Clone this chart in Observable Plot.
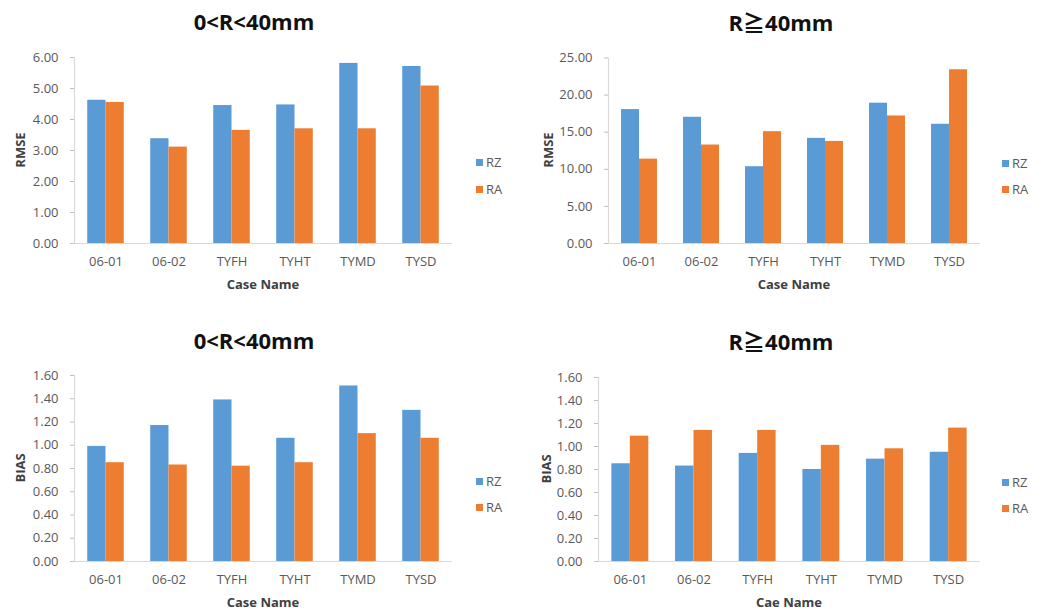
<!DOCTYPE html>
<html>
<head>
<meta charset="utf-8">
<script src="https://cdn.jsdelivr.net/npm/d3@7"></script>
<script src="https://cdn.jsdelivr.net/npm/@observablehq/plot@0.6"></script>
<style>
  html, body { margin: 0; padding: 0; background: #fff; }
  #wrap { position: relative; width: 1044px; height: 610px; overflow: hidden; font-family: "Open Sans", "Noto Sans CJK TC", sans-serif; }
  .panel { position: absolute; }
  .title { position: absolute; transform: translate(-50%, -50%); font-weight: bold; font-size: 22px; color: #111; white-space: nowrap; font-family: "Open Sans", "Noto Sans CJK TC", sans-serif; }
  .axt { position: absolute; font-weight: bold; font-size: 13px; color: #404040; white-space: nowrap; line-height: 1; }
  .axt.x { transform: translate(-50%, -50%); }
  .axt.y { transform: translate(-50%, -50%) rotate(-90deg); }
  .legend { position: absolute; font-size: 13px; color: #595959; }
  .legend .item { position: absolute; white-space: nowrap; transform: translateY(-50%); display: flex; align-items: center; }
  .legend .sw { display: inline-block; width: 7px; height: 7px; margin-right: 3px; }
</style>
</head>
<body>
<div id="wrap"></div>
<script>
const cases = ["06-01", "06-02", "TYFH", "TYHT", "TYMD", "TYSD"];
const seriesNames = ["RZ", "RA"];
const seriesColors = ["#5B9BD5", "#ED7D31"];

const rmseSmallRZ = [4.62, 3.38, 4.45, 4.47, 5.81, 5.71];
const rmseSmallRA = [4.55, 3.11, 3.65, 3.70, 3.70, 5.08];
const rmseLargeRZ = [18.05, 17.01, 10.35, 14.17, 18.91, 16.07];
const rmseLargeRA = [11.37, 13.27, 15.07, 13.76, 17.19, 23.42];
const biasSmallRZ = [0.99, 1.17, 1.39, 1.06, 1.51, 1.30];
const biasSmallRA = [0.85, 0.83, 0.82, 0.85, 1.10, 1.06];
const biasLargeRZ = [0.85, 0.83, 0.94, 0.80, 0.89, 0.95];
const biasLargeRA = [1.09, 1.14, 1.14, 1.01, 0.98, 1.16];

const rmseSmallTicks = [0, 1, 2, 3, 4, 5, 6];
const rmseLargeTicks = [0, 5, 10, 15, 20, 25];
const biasTicks = [0, 0.2, 0.4, 0.6, 0.8, 1.0, 1.2, 1.4, 1.6];

const titleSmall = "0<R<40mm";
const titleLarge = "R\u226740mm";

const wrap = document.getElementById("wrap");
const BW = 0.29; // bar width as a fraction of a category step

function addText(cls, text, x, y) {
  const t = document.createElement("div");
  t.className = cls;
  t.textContent = text;
  t.style.left = x + "px";
  t.style.top = y + "px";
  wrap.appendChild(t);
}

function panel(o) {
  const rows = [];
  cases.forEach((c, i) => {
    rows.push({i, series: "RZ", v: o.rz[i]});
    rows.push({i, series: "RA", v: o.ra[i]});
  });
  const chart = Plot.plot({
    width: o.width, height: o.height,
    marginLeft: o.ml, marginRight: o.mr, marginTop: o.mt, marginBottom: o.mb,
    style: {fontSize: "13px", fontFamily: "Open Sans, sans-serif", color: "#595959", background: "transparent"},
    x: {domain: [-0.5, cases.length - 0.5]},
    y: {domain: [o.ticks[0], o.ticks[o.ticks.length - 1]]},
    color: {domain: seriesNames, range: seriesColors},
    marks: [
      Plot.rect(rows, {
        x1: d => d.series === "RZ" ? d.i - BW : d.i,
        x2: d => d.series === "RZ" ? d.i : d.i + BW,
        y1: 0, y2: "v", fill: "series"
      }),
      Plot.ruleX([-0.5], {stroke: "#d9d9d9", strokeWidth: 1.2}),
      Plot.ruleY([0], {stroke: "#d9d9d9", strokeWidth: 1.2}),
      Plot.axisY({ticks: o.ticks, tickFormat: d => d.toFixed(2), tickSize: 4, tickPadding: 12,
        stroke: "#bfbfbf", label: null}),
      Plot.axisX({ticks: d3.range(cases.length), tickFormat: i => cases[i], tickSize: 0, tickPadding: 13,
        label: null})
    ]
  });
  const div = document.createElement("div");
  div.className = "panel";
  div.style.left = o.left + "px";
  div.style.top = o.top + "px";
  div.appendChild(chart);
  wrap.appendChild(div);

  // axis titles, centred on the plot frame
  const plotLeft = o.left + o.ml, plotRight = o.left + o.width - o.mr;
  const plotTop = o.top + o.mt, plotBottom = o.top + o.height - o.mb;
  addText("axt x", o.xLabel, (plotLeft + plotRight) / 2, plotBottom + 41);
  addText("axt y", o.yLabel, plotLeft - o.lo, (plotTop + plotBottom) / 2);
}

function legend(x, y1, y2) {
  const lg = document.createElement("div");
  lg.className = "legend";
  [y1, y2].forEach((y, k) => {
    const it = document.createElement("div");
    it.className = "item";
    it.style.left = x + "px";
    it.style.top = y + "px";
    const sw = document.createElement("span");
    sw.className = "sw";
    sw.style.background = seriesColors[k];
    it.appendChild(sw);
    it.appendChild(document.createTextNode(seriesNames[k]));
    lg.appendChild(it);
  });
  wrap.appendChild(lg);
}

panel({rz: rmseSmallRZ, ra: rmseSmallRA, ticks: rmseSmallTicks, yLabel: "RMSE", xLabel: "Case Name",
  left: 0, top: 30, width: 470, height: 280, ml: 74, mr: 18, mt: 27, mb: 67, lo: 54});
panel({rz: rmseLargeRZ, ra: rmseLargeRA, ticks: rmseLargeTicks, yLabel: "RMSE", xLabel: "Case Name",
  left: 520, top: 30, width: 470, height: 280, ml: 88, mr: 10, mt: 27.5, mb: 67, lo: 60});
panel({rz: biasSmallRZ, ra: biasSmallRA, ticks: biasTicks, yLabel: "BIAS", xLabel: "Case Name",
  left: 0, top: 340, width: 470, height: 270, ml: 74, mr: 18, mt: 35, mb: 49, lo: 54});
panel({rz: biasLargeRZ, ra: biasLargeRA, ticks: biasTicks, yLabel: "BIAS", xLabel: "Cae Name",
  left: 520, top: 340, width: 470, height: 270, ml: 78, mr: 10, mt: 37, mb: 49, lo: 52});

addText("title", titleSmall, 254, 21);
addText("title", titleLarge, 781, 21);
addText("title", titleSmall, 254, 340);
addText("title", titleLarge, 781, 340);

legend(476, 162, 189);
legend(1002, 163, 189);
legend(476, 481, 507);
legend(1002, 482, 508);
</script>
</body>
</html>
